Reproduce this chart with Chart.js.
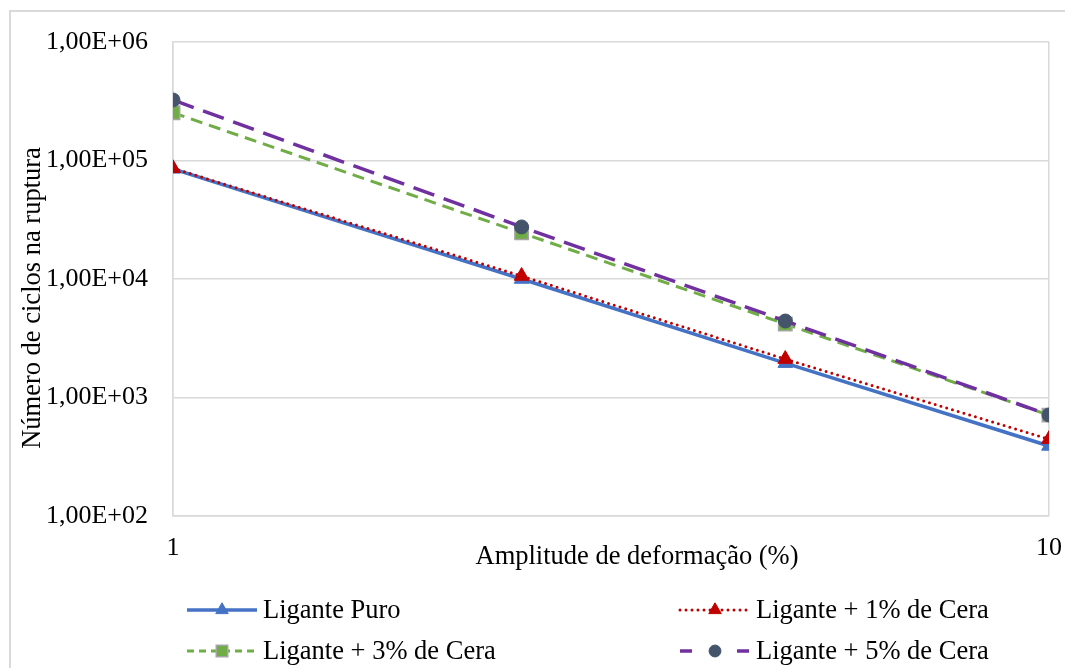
<!DOCTYPE html>
<html>
<head>
<meta charset="utf-8">
<script src="https://cdn.jsdelivr.net/npm/chart.js@4.4.1/dist/chart.umd.min.js"></script>
<style>
    html, body { margin: 0; padding: 0; background: #ffffff; overflow: hidden; }
    #wrap { position: relative; width: 1065px; height: 668px; }
    #frame {
        position: absolute; left: 9px; top: 10px; width: 1100px; height: 700px;
        border: 2px solid #d9d9d9; box-sizing: border-box;
    }
    #chart { position: absolute; left: 0; top: 0; }
</style>
</head>
<body>
<div id="wrap">
    <div id="frame"></div>
    <canvas id="chart" width="1065" height="668"></canvas>
</div>
<script>
// amplitude de deformação (%)
const strainValues = [1, 2.5, 5, 10];

// número de ciclos na ruptura
const ligantePuro = [85000, 10000, 1950, 390];
const cera1 = [86000, 10600, 2110, 445];
const cera3 = [253000, 24500, 4170, 710];
const cera5 = [324000, 27500, 4420, 712];

const seriesNames = ["Ligante Puro", "Ligante + 1% de Cera", "Ligante + 3% de Cera", "Ligante + 5% de Cera"];

const xTickValues = [1, 10];
const xTickLabels = ["1", "10"];
const yTickValues = [100, 1000, 10000, 100000, 1000000];
const yTickLabels = ["1,00E+02", "1,00E+03", "1,00E+04", "1,00E+05", "1,00E+06"];

const xTitle = "Amplitude de deformação (%)";
const yTitle = "Número de ciclos na ruptura";

const FONT = "'Liberation Serif', 'Times New Roman', serif";
const GRID = "#d9d9d9";

function toPoints(values) {
    return values.map((v, i) => ({ x: strainValues[i], y: v }));
}

const datasets = [
    {
        label: seriesNames[0],
        data: toPoints(ligantePuro),
        borderColor: "#4472c4",
        backgroundColor: "#4472c4",
        borderWidth: 3.5,
        pointStyle: "triangle",
        pointRadius: 8.5,
        pointBorderWidth: 1,
        pointBorderColor: "#4472c4",
        pointBackgroundColor: "#4472c4",
        order: 4,
        legendDash: []
    },
    {
        label: seriesNames[1],
        data: toPoints(cera1),
        borderColor: "#c00000",
        backgroundColor: "#c00000",
        borderWidth: 3,
        borderDash: [0, 6],
        borderCapStyle: "round",
        pointStyle: "triangle",
        pointRadius: 8.5,
        pointBorderWidth: 1,
        pointBorderColor: "#c00000",
        pointBackgroundColor: "#c00000",
        order: 3,
        legendDash: [0, 6],
        legendCap: "round"
    },
    {
        label: seriesNames[2],
        data: toPoints(cera3),
        borderColor: "#70ad47",
        backgroundColor: "#70ad47",
        borderWidth: 3,
        borderDash: [12, 7],
        pointStyle: "rect",
        pointRadius: 9.5,
        pointBorderWidth: 1.5,
        pointBorderColor: "#a5a5a5",
        pointBackgroundColor: "#70ad47",
        order: 2,
        legendDash: [7, 5]
    },
    {
        label: seriesNames[3],
        data: toPoints(cera5),
        borderColor: "#7030a0",
        backgroundColor: "#7030a0",
        borderWidth: 3.5,
        borderDash: [22, 10],
        pointStyle: "circle",
        pointRadius: 7,
        pointBorderWidth: 1,
        pointBorderColor: "#44546a",
        pointBackgroundColor: "#44546a",
        order: 1,
        legendDash: [12, 45]
    }
];

// axis titles and the two-column legend, drawn like the Excel original
const extrasPlugin = {
    id: "extras",
    afterDraw(chart) {
        const ctx = chart.ctx;
        ctx.save();
        ctx.fillStyle = "#000000";
        ctx.font = "26.5px " + FONT;

        // x title
        ctx.textAlign = "center";
        ctx.textBaseline = "alphabetic";
        ctx.fillText(xTitle, 637, 564);

        // y title
        ctx.save();
        ctx.translate(33, 298);
        ctx.rotate(-Math.PI / 2);
        ctx.textBaseline = "middle";
        ctx.fillText(yTitle, 0, 0);
        ctx.restore();

        // legend
        const cols = [187, 680];
        const rows = [610, 651];
        const lineLen = 70;
        chart.data.datasets.forEach((ds, i) => {
            const x0 = cols[i % 2];
            const y = rows[Math.floor(i / 2)];
            ctx.save();
            ctx.strokeStyle = ds.borderColor;
            ctx.lineWidth = ds.borderWidth;
            ctx.lineCap = ds.legendCap || "butt";
            ctx.setLineDash(ds.legendDash);
            ctx.beginPath();
            ctx.moveTo(x0, y);
            ctx.lineTo(x0 + lineLen, y);
            ctx.stroke();
            ctx.restore();

            ctx.save();
            ctx.fillStyle = ds.pointBackgroundColor;
            ctx.strokeStyle = ds.pointBorderColor;
            ctx.lineWidth = ds.pointBorderWidth;
            Chart.helpers.drawPoint(ctx, {
                pointStyle: ds.pointStyle,
                radius: ds.pointRadius * 0.85,
                borderWidth: ds.pointBorderWidth
            }, x0 + lineLen / 2, y);
            ctx.restore();

            ctx.textAlign = "left";
            ctx.textBaseline = "middle";
            ctx.fillText(ds.label, x0 + lineLen + 6, y + 1);
        });
        ctx.restore();
    }
};

new Chart(document.getElementById("chart"), {
    type: "line",
    data: { datasets: datasets },
    plugins: [extrasPlugin],
    options: {
        responsive: false,
        animation: false,
        layout: { padding: { left: 0, top: 42, right: 16, bottom: 0 } },
        plugins: {
            legend: { display: false },
            tooltip: { enabled: false }
        },
        scales: {
            x: {
                type: "logarithmic",
                min: 1,
                max: 10,
                afterBuildTicks: (scale) => { scale.ticks = xTickValues.map(v => ({ value: v })); },
                afterFit: (scale) => {
                    scale.height = 152;
                    scale.paddingLeft = 0;
                    scale.paddingRight = 0;
                },
                grid: { color: GRID, lineWidth: 1.5, drawTicks: false },
                border: { display: true, color: GRID, width: 1.5 },
                ticks: {
                    color: "#000000",
                    font: { family: FONT, size: 26 },
                    padding: 17,
                    maxRotation: 0,
                    autoSkip: false,
                    callback: (value) => xTickLabels[xTickValues.indexOf(value)]
                }
            },
            y: {
                type: "logarithmic",
                min: 100,
                max: 1000000,
                afterBuildTicks: (scale) => { scale.ticks = yTickValues.map(v => ({ value: v })); },
                afterFit: (scale) => {
                    scale.width = 173;
                    scale.paddingTop = 0;
                    scale.paddingBottom = 0;
                },
                grid: { color: GRID, lineWidth: 1.5, drawTicks: false },
                border: { display: true, color: GRID, width: 1.5 },
                ticks: {
                    color: "#000000",
                    font: { family: FONT, size: 26 },
                    padding: 25,
                    autoSkip: false,
                    callback: (value) => yTickLabels[yTickValues.indexOf(value)]
                }
            }
        }
    }
});
</script>
</body>
</html>
